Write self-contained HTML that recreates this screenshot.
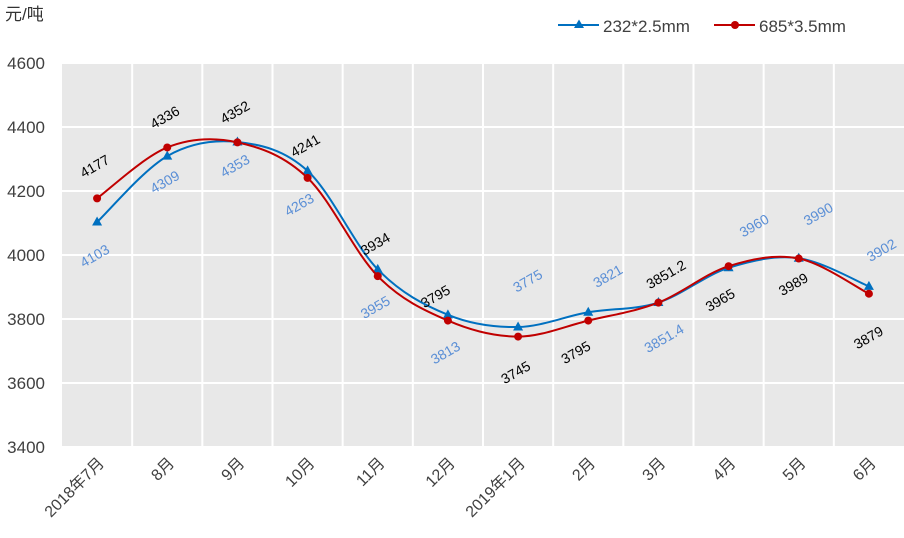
<!DOCTYPE html>
<html><head><meta charset="utf-8"><style>
body{margin:0;background:#fff;width:904px;height:538px;overflow:hidden}
svg{display:block;font-family:"Liberation Sans","Noto Sans CJK SC",sans-serif}
</style></head><body>
<svg id="chart" width="904" height="538">
<text x="5" y="20" font-size="17" fill="#333">元/吨</text>
<g>
<g>
<line x1="558" y1="25" x2="599" y2="25" stroke="#0070c0" stroke-width="2"/>
<polygon points="579,19.5 584,28 574,28" fill="#0070c0"/>
<text x="603" y="32" font-size="17" fill="#404040">232*2.5mm</text></g>
<g>
<line x1="714" y1="25" x2="755" y2="25" stroke="#c00000" stroke-width="2"/>
<circle cx="735" cy="25" r="4" fill="#c00000"/>
<text x="759" y="32" font-size="17" fill="#404040">685*3.5mm</text></g>
</g>
<rect x="62" y="63" width="842" height="384" fill="#e8e8e8"/>
<g id="grid"></g><g id="yt"></g><g id="xt"></g><g id="series"></g><g id="labels"></g>
</svg>
<script>
const categories=["2018年7月","8月","9月","10月","11月","12月","2019年1月","2月","3月","4月","5月","6月"];
const blueValues=[4103,4309,4353,4263,3955,3813,3775,3821,3851.4,3960,3990,3902];
const redValues=[4177,4336,4352,4241,3934,3795,3745,3795,3851.2,3965,3989,3879];
const blueLabels=["4103","4309","4353","4263","3955","3813","3775","3821","3851.4","3960","3990","3902"];
const redLabels=["4177","4336","4352","4241","3934","3795","3745","3795","3851.2","3965","3989","3879"];
const yTicks=[3400,3600,3800,4000,4200,4400,4600];
// label offsets (style): [dx,dy]
const blueOff=[[0,38],[0,-22+52],[0,-4+32],[-6,-50+88],[0,42],[0,42],[12,-42],[22,-32],[8,40],[28,-38],[22,-40],[15,-32]];
const redOff=[[0,-28],[0,-26],[0,-26],[0,-28],[0,-28],[-10,-20],[0,40],[-10,36],[10,-24],[-6,38],[-3,-8+38],[2,48]];
const NS="http://www.w3.org/2000/svg";
const L=62,W=842,T=63,B=447,n=categories.length,step=W/n;
const x=i=>L+step*(i+0.5);
const y=v=>B-(v-3400)/1200*(B-T);
function mk(tag,a,p){const e=document.createElementNS(NS,tag);for(const k in a)e.setAttribute(k,a[k]);p.appendChild(e);return e;}
const grid=document.getElementById('grid');
for(const t of yTicks){const l=mk('line',{x1:L,x2:L+W,y1:y(t),y2:y(t),stroke:'#fff','stroke-width':2},grid);


const tx=mk('text',{x:45,y:y(t)+6,'font-size':17,fill:'#404040','text-anchor':'end'},document.getElementById('yt'));tx.textContent=t;

}
for(let i=1;i<n;i++){const l=mk('line',{x1:L+step*i,x2:L+step*i,y1:T,y2:B,stroke:'#fff','stroke-width':2},grid);

}
categories.forEach((c,i)=>{const tx=mk('text',{transform:`translate(${x(i)+8},${B+17}) rotate(-45)`,'font-size':16,fill:'#404040','text-anchor':'end'},document.getElementById('xt'));tx.textContent=c;

});
function path(vals){const p=vals.map((v,i)=>[x(i),y(v)]);let d=`M${p[0][0]},${p[0][1]}`;
for(let i=0;i<p.length-1;i++){const p0=p[i-1]||p[i],p1=p[i],p2=p[i+1],p3=p[i+2]||p2;
d+=` C${p1[0]+(p2[0]-p0[0])/6},${p1[1]+(p2[1]-p0[1])/6} ${p2[0]-(p3[0]-p1[0])/6},${p2[1]-(p3[1]-p1[1])/6} ${p2[0]},${p2[1]}`;}return d;}
const sg=document.getElementById('series');
function series(vals,color,name,marker,labels,off,lc){
const pth=mk('path',{d:path(vals),fill:'none',stroke:color,'stroke-width':2},sg);


vals.forEach((v,i)=>{let m;
if(marker==='tri'){m=mk('polygon',{points:`${x(i)},${y(v)-5.5} ${x(i)+5},${y(v)+3.5} ${x(i)-5},${y(v)+3.5}`,fill:color},sg);}
else{m=mk('circle',{cx:x(i),cy:y(v),r:4,fill:color},sg);}


const tx=mk('text',{transform:`translate(${x(i)+off[i][0]},${y(v)+off[i][1]}) rotate(-30)`,'font-size':14,fill:lc,'text-anchor':'middle'},document.getElementById('labels'));
tx.textContent=labels[i];

});}
series(blueValues,'#0070c0','series-232','tri',blueLabels,blueOff,'#5b8fd6');
series(redValues,'#c00000','series-685','dot',redLabels,redOff,'#000');
</script>
</body></html>
